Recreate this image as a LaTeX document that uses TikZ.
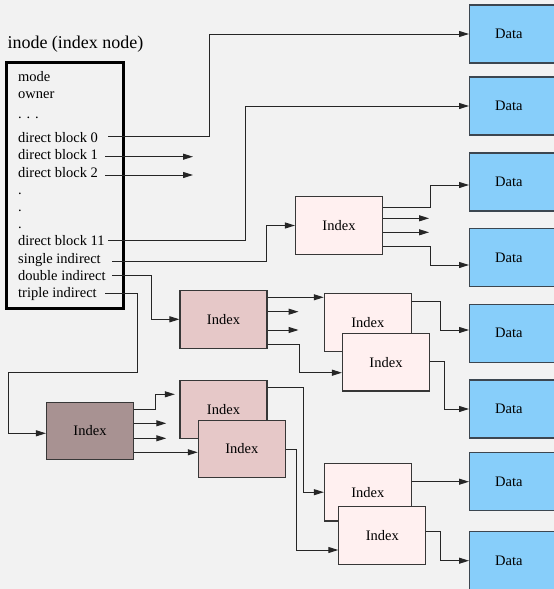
\documentclass[tikz,border=0pt]{standalone}
\usepackage{fontspec}
\setmainfont{Liberation Serif}
\usetikzlibrary{arrows.meta}
\definecolor{bg}{RGB}{242,242,242}
\definecolor{idxlight}{RGB}{255,240,240}
\definecolor{idxmid}{RGB}{230,200,200}
\definecolor{idxdark}{RGB}{168,146,146}
\definecolor{datafill}{RGB}{135,206,250}
\definecolor{edgecol}{RGB}{55,55,55}
\definecolor{datedge}{RGB}{60,70,80}
\begin{document}
\begin{tikzpicture}[x=1pt,y=-1pt,
  font=\fontsize{14.5}{17}\selectfont,
  idxbox/.style={draw=edgecol, line width=1.1pt, minimum width=87pt,
                 minimum height=57.5pt, inner sep=0pt},
  light/.style={idxbox, fill=idxlight},
  mid/.style={idxbox, fill=idxmid},
  dark/.style={idxbox, fill=idxdark},
  databox/.style={draw=datedge, line width=1.1pt, fill=datafill, anchor=west,
                  minimum height=58pt, text width=66pt, align=left,
                  inner xsep=25.6pt, inner ysep=0pt},
  field/.style={anchor=base west, inner sep=0pt},
  conn/.style={draw=black!85, line width=1pt},
  arr/.style={conn, -{Triangle[length=10pt,width=6pt]}}]

% canvas
\fill[bg] (0,0) rectangle (554,589);
\useasboundingbox (0,0) rectangle (554,589);

% inode title and record
\node[field, font=\fontsize{18}{20}\selectfont] (title) at (7.3,48.3) {inode (index node)};
\draw[black, line width=3pt] (6,62.3) rectangle (123,308);
\node[field] (fmode)  at (18,81.7)  {mode};
\node[field] (fowner) at (18,98.5)  {owner};
\node[field] (fdots)  at (18,118)   {. . .};
\node[field] (fdb0)   at (18,142.7) {direct block 0};
\node[field] (fdb1)   at (18,159.9) {direct block 1};
\node[field] (fdb2)   at (18,177.1) {direct block 2};
\node[field] (fd1)    at (18,194.3) {.};
\node[field] (fd2)    at (18,211.5) {.};
\node[field] (fd3)    at (18,228.7) {.};
\node[field] (fdb11)  at (18,245.5) {direct block 11};
\node[field] (fsi)    at (18,263.1) {single indirect};
\node[field] (fdi)    at (18,280.3) {double indirect};
\node[field] (fti)    at (18,297.5) {triple indirect};

% data blocks
\node[databox] (dt1) at (469,34)    {Data};
\node[databox] (dt2) at (469,106)   {Data};
\node[databox] (dt3) at (469,182)   {Data};
\node[databox] (dt4) at (469,257.7) {Data};
\node[databox] (dt5) at (469,333.3) {Data};
\node[databox] (dt6) at (469,409)   {Data};
\node[databox] (dt7) at (469,481.5) {Data};
\node[databox] (dt8) at (469,560.7) {Data};

% index blocks
\node[light] (i1) at (339,225.5)   {Index};
\node[mid]   (iM) at (223.5,319.3) {Index};
\node[light] (iA) at (367.8,322.5) {Index};
\node[light] (iB) at (386,362.2)   {Index};
\node[dark]  (iK) at (90,430.8)    {Index};
\node[mid]   (iC) at (223.5,409.5) {Index};
\node[mid]   (iD) at (241.8,448.8) {Index};
\node[light] (iE) at (367.9,492.2) {Index};
\node[light] (iF) at (382.3,535.5) {Index};

% pointer starts inside the inode and free arrow ends
\coordinate (s0)  at (108,136);
\coordinate (s1)  at (105,156.7);
\coordinate (e1)  at (193,156.7);
\coordinate (s2)  at (105,175);
\coordinate (e2)  at (193,175);
\coordinate (s11) at (108,240);
\coordinate (ss)  at (112,261);
\coordinate (sd)  at (112,275.7);
\coordinate (st)  at (105,293.7);
\coordinate (tl)  at (8,372.7);

% direct pointers
\draw[arr] (s0) -- ++(101,0) |- (dt1.west);
\draw[arr] (s1) -- (e1);
\draw[arr] (s2) -- (e2);
\draw[arr] (s11) -- ++(137,0) |- (dt2.west);

% indirect pointers
\draw[arr] (ss) -- ++(154.7,0) |- (i1.west);
\draw[arr] (sd) -- ++(39.7,0) |- (iM.west);
\draw[arr] (st) -- ++(32,0) |- (tl) |- ([yshift=-2.5pt]iK.west);

% single indirect block
\draw[arr] ([yshift=18.2pt]i1.east) -- ++(47,0) |- ([yshift=-3pt]dt3.west);
\draw[arr] ([yshift=7.2pt]i1.east) -- ++(46,0);
\draw[arr] ([yshift=-6.8pt]i1.east) -- ++(46,0);
\draw[arr] ([yshift=-21.2pt]i1.east) -- ++(47,0) |- ([yshift=-7.3pt]dt4.west);

% double indirect block
\draw[arr] ([yshift=22pt]iM.east) -- ([yshift=22pt]iM.east -| iA.west);
\draw[arr] ([yshift=7.6pt]iM.east) -- ++(31,0);
\draw[arr] ([yshift=-10.7pt]iM.east) -- ++(31,0);
\draw[arr] ([yshift=-25pt]iM.east) -- ++(32.3,0) |- ([yshift=-10.5pt]iB.west);
\draw[arr] ([yshift=21.5pt]iA.east) -- ++(28.7,0) |- ([yshift=3.3pt]dt5.west);
\draw[arr] ([yshift=0.5pt]iB.east) -- ++(14,0) |- (dt6.west);

% triple indirect block
\draw[arr, shorten >=4.6pt] ([yshift=21.5pt]iK.east) -- ++(21.5,0) |- ([yshift=15.2pt]iC.west);
\draw[arr] ([yshift=7.5pt]iK.east) -- ++(32.2,0);
\draw[arr] ([yshift=-7.5pt]iK.east) -- ++(32.2,0);
\draw[arr] ([yshift=-21.5pt]iK.east) -- ([yshift=-21.5pt]iK.east -| iD.west);
\draw[arr] ([yshift=21.8pt]iC.east) -- ++(36.3,0) |- (iE.west);
\draw[arr] ([yshift=-0.2pt]iD.east) -- ++(10.4,0) |- ([yshift=-14.5pt]iF.west);
\draw[arr] ([yshift=10.5pt]iE.east) -- ([yshift=10.5pt]iE.east -| dt7.west);
\draw[arr] ([yshift=3.8pt]iF.east) -- ++(14.3,0) |- (dt8.west);
\end{tikzpicture}
\end{document}
